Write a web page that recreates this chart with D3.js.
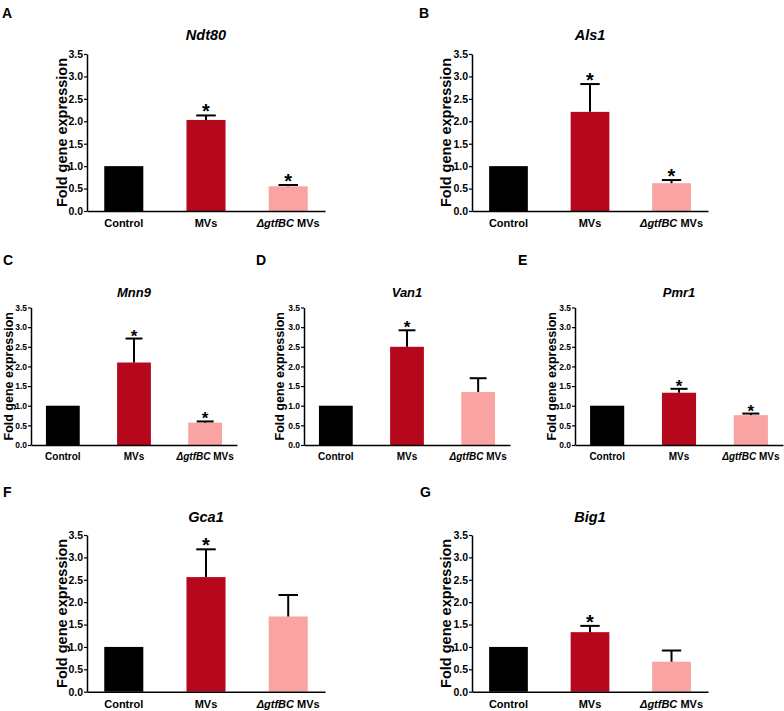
<!DOCTYPE html>
<html><head><meta charset="utf-8">
<script src="https://cdn.jsdelivr.net/npm/d3@7"></script>
<style>
body{margin:0;background:#fff;}
text{font-family:"Liberation Sans",Arial,sans-serif;font-weight:bold;}
</style></head>
<body>
<svg id="c" width="784" height="711"></svg>
<script>
// ---- data ----
const panelLetters = ["A","B","C","D","E","F","G"];
const genes = ["Ndt80","Als1","Mnn9","Van1","Pmr1","Gca1","Big1"];
const categories = ["Control","MVs","ΔgtfBC MVs"];
const controlMean = [1,1,1,1,1,1,1];
const controlErr  = [0,0,0,0,0,0,0];
const mvsMean  = [2.03,2.21,2.10,2.50,1.33,2.56,1.33];
const mvsErr   = [0.10,0.62,0.61,0.42,0.10,0.62,0.14];
const deltaMean= [0.55,0.62,0.57,1.35,0.76,1.68,0.67];
const deltaErr = [0.03,0.07,0.03,0.35,0.04,0.48,0.25];
const mvsSig   = [true,true,true,true,true,true,true];
const deltaSig = [true,true,true,false,true,false,false];
const yTicks = [0,0.5,1.0,1.5,2.0,2.5,3.0,3.5];
const yMax = 3.5;
const colors = ["#000000","#b5081d","#f9a3a3"];

// ---- layout ----
const big = {tick:10.5, lab:14.5, cat:11, title:14.5, star:20, letter:14};
const small = {tick:8.5, lab:12.5, cat:10, title:13, star:17, letter:14};
const layout = [
  {x0:87, x1:325, yT:54,  yB:211,   tY:40,  lx:2,   lY:18,  labX:62,  catY:227, s:big},
  {x0:472,x1:708, yT:54,  yB:211,   tY:40,  lx:419, lY:18,  labX:446, catY:227, s:big},
  {x0:31, x1:237, yT:307.5,yB:445,  tY:297, lx:3,   lY:265, labX:9,   catY:460, s:small},
  {x0:304,x1:510, yT:307.5,yB:445,  tY:297, lx:256, lY:265, labX:280, catY:460, s:small},
  {x0:575,x1:783, yT:307.5,yB:445,  tY:297, lx:518, lY:265, labX:552, catY:460, s:small},
  {x0:87, x1:325, yT:535, yB:691.7, tY:522, lx:3,   lY:497, labX:62,  catY:708, s:big},
  {x0:472,x1:708, yT:535, yB:691.7, tY:522, lx:420, lY:497, labX:446, catY:708, s:big}
];

const svg = d3.select("#c");

genes.forEach((gene,i)=>{
  const L = layout[i], s = L.s;
  const g = svg.append("g");
  const x = d3.scaleBand().domain(categories).range([L.x0,L.x1]).paddingInner(0.525).paddingOuter(0.21);
  const y = d3.scaleLinear().domain([0,yMax]).range([L.yB,L.yT]);
  const means = [controlMean[i],mvsMean[i],deltaMean[i]];
  const errs = [controlErr[i],mvsErr[i],deltaErr[i]];
  const sig = [false,mvsSig[i],deltaSig[i]];
  const data = categories.map((c,k)=>({c,m:means[k],e:errs[k],sig:sig[k],col:colors[k]}));

  // bars
  g.selectAll("rect.bar").data(data).enter().append("rect")
    .attr("x",d=>x(d.c)).attr("width",x.bandwidth())
    .attr("y",d=>y(d.m)).attr("height",d=>y(0)-y(d.m))
    .attr("fill",d=>d.col);

  // error bars (upper only)
  const eb = data.filter(d=>d.e>0);
  const cw = x.bandwidth()*0.25;
  g.selectAll("line.ev").data(eb).enter().append("line")
    .attr("x1",d=>x(d.c)+x.bandwidth()/2).attr("x2",d=>x(d.c)+x.bandwidth()/2)
    .attr("y1",d=>y(d.m)).attr("y2",d=>y(d.m+d.e))
    .attr("stroke","#000").attr("stroke-width",2);
  g.selectAll("line.ec").data(eb).enter().append("line")
    .attr("x1",d=>x(d.c)+x.bandwidth()/2-cw).attr("x2",d=>x(d.c)+x.bandwidth()/2+cw)
    .attr("y1",d=>y(d.m+d.e)).attr("y2",d=>y(d.m+d.e))
    .attr("stroke","#000").attr("stroke-width",2);

  // asterisks
  g.selectAll("text.star").data(data.filter(d=>d.sig)).enter().append("text")
    .attr("x",d=>x(d.c)+x.bandwidth()/2).attr("y",d=>y(d.m+d.e)+3)
    .attr("text-anchor","middle").attr("font-size",s.star).text("*");

  // axes
  const ya = g.append("g").attr("transform",`translate(${L.x0},0)`)
    .call(d3.axisLeft(y).tickValues(yTicks).tickFormat(d3.format(".1f")).tickSize(3).tickSizeOuter(0).tickPadding(1));
  ya.select(".domain").attr("stroke-width",1.5);
  ya.selectAll(".tick line").attr("stroke-width",1.2);
  ya.selectAll(".tick text").attr("font-size",s.tick).attr("font-family","Liberation Sans, Arial, sans-serif").attr("font-weight","bold").attr("fill","#000");
  const xa = g.append("g").attr("transform",`translate(0,${L.yB})`)
    .call(d3.axisBottom(x).tickSize(0).tickSizeOuter(0).tickFormat(""));
  xa.select(".domain").attr("stroke-width",1.5);

  // category labels
  categories.forEach((c,k)=>{
    const t = g.append("text").attr("x",x(c)+x.bandwidth()/2).attr("y",L.catY)
      .attr("text-anchor","middle").attr("font-size",s.cat);
    if(c.startsWith("Δ")){
      t.append("tspan").attr("font-style","italic").text("ΔgtfBC");
      t.append("tspan").text(" MVs");
    } else t.text(c);
  });

  // y label
  g.append("text").attr("transform",`translate(${L.labX},${(L.yT+L.yB)/2}) rotate(-90)`)
    .attr("text-anchor","middle").attr("dominant-baseline","central")
    .attr("font-size",s.lab).text("Fold gene expression");

  // title
  g.append("text").attr("x",(x(categories[1])+x.bandwidth()/2)).attr("y",L.tY)
    .attr("text-anchor","middle").attr("font-size",s.title).attr("font-style","italic").text(gene);

  // panel letter
  g.append("text").attr("x",L.lx).attr("y",L.lY).attr("font-size",s.letter).text(panelLetters[i]);
});
</script>
</body></html>
